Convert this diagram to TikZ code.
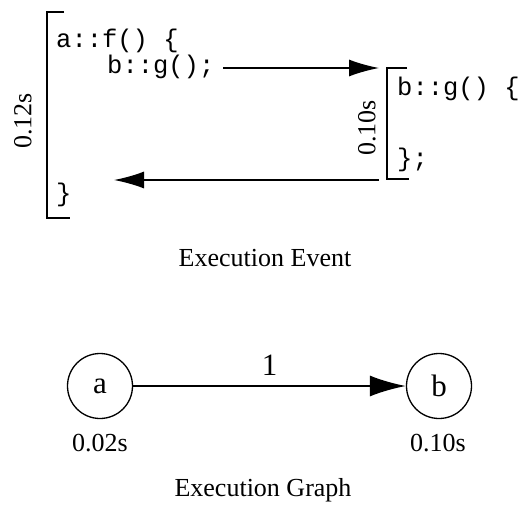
\documentclass[tikz,border=0pt]{standalone}
\usepackage{fontspec}
\setmainfont{Liberation Serif}
\setmonofont{Liberation Mono}
\usetikzlibrary{arrows.meta}
\begin{document}
\begin{tikzpicture}[x=1pt,y=-1pt,
  code/.style={inner sep=0pt,anchor=base west,font=\fontsize{25.5}{30}\ttfamily},
  lbl/.style={inner sep=0pt,font=\fontsize{26}{30}\selectfont},
  big/.style={inner sep=0pt,font=\fontsize{31}{36}\selectfont},
  brk/.style={line width=1.4pt},
  callarrow/.style={line width=1.4pt,-{Latex[length=30pt,width=17pt]}},
  gnode/.style={circle,draw,line width=1.3pt,minimum size=65pt,inner sep=0pt,font=\fontsize{31}{36}\selectfont},
  garrow/.style={line width=2pt,-{Latex[length=36pt,width=21pt]}}]
\useasboundingbox (0,0) rectangle (525,506);
% left bracket
\draw[brk] (64,12) -- (47,12) -- (47,218) -- (70,218);
\node[lbl,rotate=90] (t12) at (23,121) {0.12s};
\node[code] (af) at (56,47) {a::f()\ \{};
\node[code] (bg) at (107,73) {b::g();};
\node[code] (cl) at (56,201) {\}};
% right bracket
\draw[brk] (407,68) -- (387,68) -- (387,179) -- (409,179);
\node[lbl,rotate=90] (t10) at (367,128) {0.10s};
\node[code] (bgd) at (397,95) {b::g()\ \{};
\node[code] (bcl) at (397,166) {\};};
% arrows
\coordinate (c1) at (223,68);
\coordinate (c2) at (379,68);
\coordinate (r1) at (379,180);
\coordinate (r2) at (114,180);
\draw[callarrow] (c1) -- (c2);
\draw[callarrow] (r1) -- (r2);
\node[lbl,anchor=base] (ev) at (265,266) {Execution Event};
% graph
\node[gnode] (a) at (100,386) {a};
\node[gnode] (b) at (439,386) {b};
\draw[garrow] (a) -- node[big,above=10pt] (w) {1} (b);
\node[lbl,anchor=base] (ta) at (100,451) {0.02s};
\node[lbl,anchor=base] (tb) at (438,451) {0.10s};
\node[lbl,anchor=base] (eg) at (263,496) {Execution Graph};
\end{tikzpicture}
\end{document}
